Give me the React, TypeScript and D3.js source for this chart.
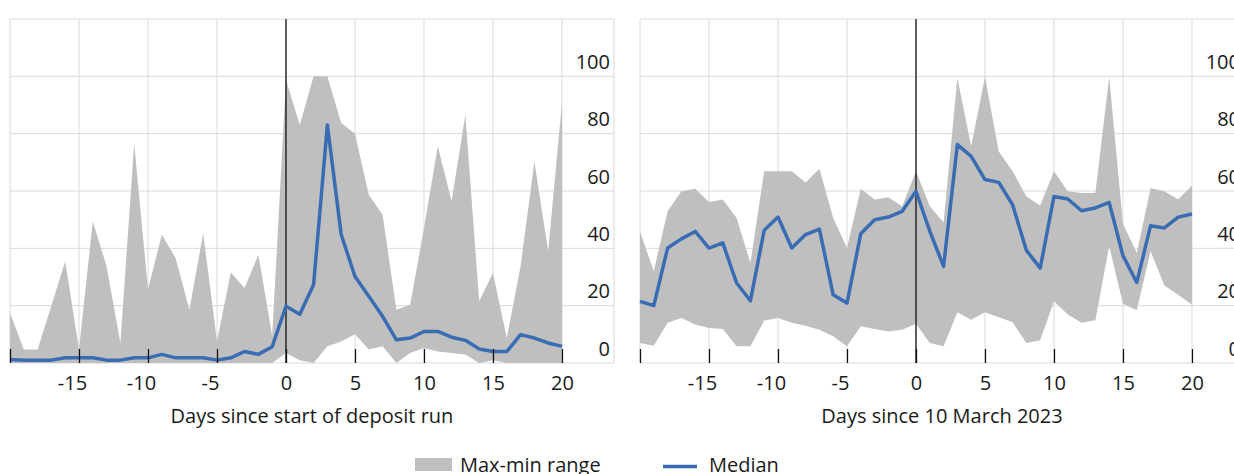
import { useRef, useEffect } from 'react';
import * as d3 from 'd3';

// Days relative to the event
const days = [
  -20, -19, -18, -17, -16, -15, -14, -13, -12, -11, -10, -9, -8, -7, -6, -5, -4, -3, -2, -1,
  0, 1, 2, 3, 4, 5, 6, 7, 8, 9, 10, 11, 12, 13, 14, 15, 16, 17, 18, 19, 20,
];

// Left panel: days since start of deposit run
const runMax = [
  17.4, 4.7, 4.7, 20, 35.5, 4.7, 49.4, 33.7, 7, 76.5, 25.6, 44.8, 36.6, 18.6, 45.3, 7.6, 31.6, 26.2, 37.8, 9.5,
  98.8, 83, 100, 100, 83.7, 80, 58.7, 51.7, 18.6, 20.3, 47, 75.6, 56.4, 86.6, 21.5, 31.4, 8.7, 33.7, 70.3, 39, 90.7,
];
const runMin = [
  0, 0, 0, 0, 0, 0, 0, 0, 0, 0, 0, 0, 0, 0, 0, 0, 0, 0, 0, 0,
  3.5, 1, 0, 5.8, 7.5, 10, 4.7, 5.8, 0, 3.5, 5.2, 4, 3.5, 3, 0, 1, 0, 0, 0, 0, 0,
];
const runMedian = [
  1.2, 1, 1, 1, 1.8, 1.8, 1.8, 1, 1, 1.8, 1.8, 3, 1.8, 1.8, 1.8, 1, 1.8, 4, 3, 5.7,
  19.8, 17, 27.3, 83, 44.8, 30.2, 23.3, 16.3, 8.1, 8.7, 11, 11, 9, 7.9, 4.9, 4, 4, 9.9, 8.7, 7, 5.8,
];

// Right panel: days since 10 March 2023
const svbMax = [
  45.9, 32, 52.9, 59.9, 60.8, 56.2, 57, 50.6, 34.9, 66.9, 66.9, 66.9, 63, 67.8, 50.6, 40.1, 60.8, 57, 57.8, 54.7,
  66.9, 54.7, 49, 99.4, 75.6, 99.8, 73.8, 66.9, 58.1, 54.9, 66.9, 59.9, 59.3, 59.3, 99.8, 48.6, 38.4, 61, 59.9, 57, 61.9,
];
const svbMin = [
  7, 6, 14, 15.7, 13.4, 12.2, 11.9, 5.8, 5.8, 14.8, 15.7, 14, 13, 11.6, 9.3, 5.8, 12.8, 11.9, 11, 11.6,
  13.7, 7, 5.8, 17.7, 15.1, 17.7, 16, 14.2, 7, 7.9, 21.5, 16.9, 14, 14.9, 40.7, 20.7, 18.4, 39, 27, 23.8, 20.3,
];
const svbMedian = [
  21.5, 20, 40.1, 43.3, 45.9, 40.1, 41.9, 27.9, 21.7, 46.3, 50.9, 40.1, 44.8, 46.7, 23.8, 20.9, 45.1, 50, 50.9, 52.9,
  59.9, 46, 33.7, 76.2, 72.1, 64, 63, 55.2, 39.3, 33.1, 58.1, 57.2, 53.1, 54.1, 56, 37.4, 28.1, 47.9, 47.1, 50.9, 52,
];

const xTicks = [-20, -15, -10, -5, 0, 5, 10, 15, 20];
const yTicks = [0, 20, 40, 60, 80, 100, 120];
const yLabels = [0, 20, 40, 60, 80, 100];

const panels = [
  { title: 'Days since start of deposit run', max: runMax, min: runMin, median: runMedian },
  { title: 'Days since 10 March 2023', max: svbMax, min: svbMin, median: svbMedian },
];

const legendItems = ['Max-min range', 'Median'];

const W = 1234;
const H = 474;
const FONT = "'Open Sans', 'Noto Sans', sans-serif";
const FS = '20px';
const GREY = '#bfbfbf';
const BLUE = '#3a6cb4';
const GRID = '#dadada';
const INK = '#1a1a1a';

export default function App() {
  const svgRef = useRef<SVGSVGElement>(null);

  useEffect(() => {
    const svg = d3.select(svgRef.current);
    svg.selectAll('*').remove();

    const panelWidth = 604;
    const panelGap = 630;
    const top = 19;
    const bottom = 363;

    const y = d3.scaleLinear().domain([0, 120]).range([bottom, top]);

    panels.forEach((p, i) => {
      const g = svg.append('g').attr('transform', `translate(${10 + i * panelGap},0)`);
      const x = d3.scaleLinear().domain([-20, 23.77]).range([0, panelWidth]);

      // grid
      g.selectAll('.hgrid')
        .data(yTicks)
        .join('line')
        .attr('x1', 0)
        .attr('x2', panelWidth)
        .attr('y1', (d) => y(d))
        .attr('y2', (d) => y(d))
        .attr('stroke', GRID)
        .attr('stroke-width', 1);

      g.selectAll('.vgrid')
        .data([...xTicks.map((d) => x(d)), panelWidth])
        .join('line')
        .attr('x1', (d) => d)
        .attr('x2', (d) => d)
        .attr('y1', top)
        .attr('y2', bottom)
        .attr('stroke', GRID)
        .attr('stroke-width', 1);

      const rows = days.map((d, j) => ({ day: d, hi: p.max[j], lo: p.min[j], med: p.median[j] }));

      const area = d3
        .area<(typeof rows)[number]>()
        .x((d) => x(d.day))
        .y0((d) => y(d.lo))
        .y1((d) => y(d.hi));

      g.append('path').datum(rows).attr('d', area).attr('fill', GREY);

      // event line
      g.append('line')
        .attr('x1', x(0))
        .attr('x2', x(0))
        .attr('y1', top)
        .attr('y2', bottom)
        .attr('stroke', '#111')
        .attr('stroke-width', 1.3);

      const line = d3
        .line<(typeof rows)[number]>()
        .x((d) => x(d.day))
        .y((d) => y(d.med));

      g.append('path')
        .datum(rows)
        .attr('d', line)
        .attr('fill', 'none')
        .attr('stroke', BLUE)
        .attr('stroke-width', 3.5)
        .attr('stroke-linejoin', 'round');

      // x axis
      const axis = d3
        .axisBottom(x)
        .tickValues(xTicks)
        .tickSizeInner(-14)
        .tickSizeOuter(0)
        .tickFormat((d) => (d === -20 ? '' : String(d)));

      g.append('g')
        .attr('transform', `translate(0,${bottom})`)
        .call(axis)
        .call((sel) => sel.select('.domain').remove())
        .call((sel) => sel.selectAll('.tick line').attr('stroke', '#111').attr('stroke-width', 1.3))
        .call((sel) =>
          sel
            .selectAll<SVGTextElement, number>('.tick text')
            .attr('y', 27)
            .attr('dy', 0)
            .attr('dx', (d) => (d < 0 ? -7 : 0))
            .attr('fill', INK)
            .attr('font-size', FS)
            .attr('font-family', FONT),
        );

      // y labels (right side, sitting above gridlines)
      g.selectAll('.ylab')
        .data(yLabels)
        .join('text')
        .attr('x', panelWidth - 4)
        .attr('y', (d) => y(d) - 7.5)
        .attr('text-anchor', 'end')
        .attr('fill', INK)
        .attr('font-size', FS)
        .attr('font-family', FONT)
        .text((d) => d);

      g.append('text')
        .attr('x', panelWidth / 2)
        .attr('y', 423)
        .attr('text-anchor', 'middle')
        .attr('fill', INK)
        .attr('font-size', FS)
        .attr('font-family', FONT)
        .text(p.title);
    });

    // legend
    const lg = svg.append('g');
    lg.append('rect').attr('x', 415).attr('y', 458).attr('width', 37).attr('height', 13).attr('fill', GREY);
    lg.append('text')
      .attr('x', 460)
      .attr('y', 472)
      .attr('fill', INK)
      .attr('font-size', FS)
      .attr('font-family', FONT)
      .text(legendItems[0]);
    lg.append('line')
      .attr('x1', 663)
      .attr('x2', 697)
      .attr('y1', 466.5)
      .attr('y2', 466.5)
      .attr('stroke', BLUE)
      .attr('stroke-width', 3.5);
    lg.append('text')
      .attr('x', 709)
      .attr('y', 472)
      .attr('fill', INK)
      .attr('font-size', FS)
      .attr('font-family', FONT)
      .text(legendItems[1]);
  }, []);

  return (
    <svg
      ref={svgRef}
      width={W}
      height={H}
      viewBox={`0 0 ${W} ${H}`}
      style={{ position: 'absolute', left: 0, top: 0, background: '#fff' }}
    />
  );
}
